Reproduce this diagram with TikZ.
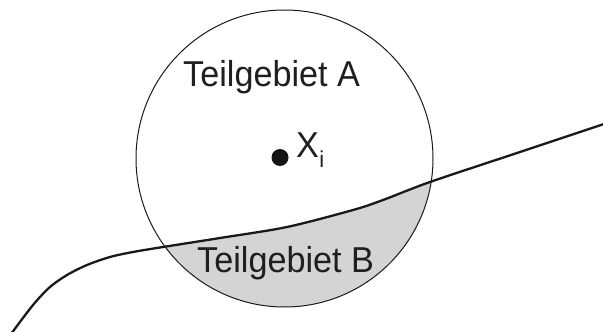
\documentclass[tikz,border=0pt]{standalone}
\usepackage{fontspec}
\setmainfont{Liberation Sans}
\newfontfamily\lblfont[FakeStretch=0.95]{Liberation Sans}
\begin{document}
\begin{tikzpicture}[x=1pt,y=-1pt,
  lbl/.style={font=\lblfont\fontsize{36}{40}\selectfont, inner sep=0pt, anchor=base west, text=black!88},
  ring/.style={draw=black!90, line width=1pt, circle, minimum size=297pt, inner sep=0pt},
  curveline/.style={draw=black!90, line width=2.3pt},
  regionfill/.style={fill=black!17}]
\useasboundingbox (0,0) rectangle (603,332);
\def\curvepath{plot[smooth, tension=0.5] coordinates {(11,334) (33,305) (50,287) (67,275) (87,265) (110,257) (133,252) (163,247) (220,238) (287,227) (353,210) (383,200) (430,182) (517,153) (604,124)}}
\begin{scope}
  \clip (284.5,158.5) circle (148.5);
  \fill[regionfill] \curvepath -- (620,350) -- (0,350) -- cycle;
\end{scope}
\node[ring] (circ) at (284.5,158.5) {};
\draw[curveline] \curvepath;
\node[circle, fill=black!92, minimum size=17pt, inner sep=0pt] (xi) at (280,157.5) {};
\node[lbl] (xlab) at (296,157) {X};
\node[font=\lblfont\fontsize{23}{26}\selectfont, inner sep=0pt, anchor=base west, text=black!88] (isub) at (xlab.base east) [yshift=-10pt] {i};
\node[lbl] (ta) at (183,86.7) {Teilgebiet A};
\node[lbl] (tb) at (197,272) {Teilgebiet B};
\end{tikzpicture}
\end{document}
